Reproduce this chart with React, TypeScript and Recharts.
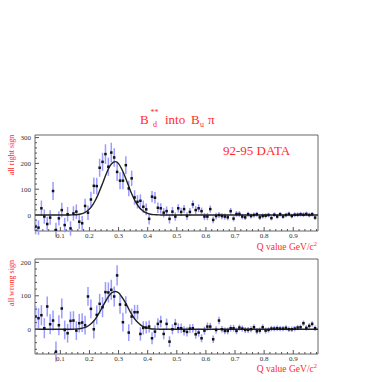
import { ComposedChart, Scatter, Line, XAxis, YAxis, ErrorBar, ReferenceArea } from "recharts";

// Q value bins: 0.015 .. 0.975, width 0.01
const BIN_START = 0.015;
const BIN_WIDTH = 0.01;

const rightSign = [
  -45, -49, 26, -6, -35, -10, 93, -58, -13, 19,
  -39, 3, -52, 6, 13, -26, -32, 35, 9, 60,
  113, 112, 183, 206, 236, 187, 242, 223, 167, 133,
  133, 193, 103, 142, 68, 51, 55, 32, 22, -15,
  71, 67, 28, 26, 9, 15, -15, 13, -6, 26,
  12, 23, -4, 12, 41, 19, 26, 15, -6, -6,
  23, -19, -4, 0, -4, -6, -9, 15, -14, 4,
  4, -6, -9, 3, -4, 0, 3, -9, -4, -3,
  0, -12, 1, -6, 3, -6, 0, 4, -4, 1,
  1, 3, 1, 4, 0, 3, -10,
];
const rightErr = [
  30, 28, 30, 28, 28, 28, 35, 28, 28, 28,
  28, 28, 28, 28, 28, 28, 28, 28, 28, 30,
  32, 32, 35, 35, 38, 35, 38, 36, 35, 33,
  33, 35, 30, 30, 28, 26, 25, 24, 23, 22,
  22, 22, 20, 20, 18, 18, 18, 18, 16, 16,
  16, 16, 15, 15, 15, 15, 15, 14, 14, 14,
  14, 13, 13, 12, 12, 12, 12, 12, 11, 11,
  11, 11, 10, 10, 10, 10, 10, 10, 10, 10,
  9, 9, 9, 9, 9, 9, 9, 9, 9, 9,
  9, 9, 9, 9, 9, 9, 9,
];

const wrongSign = [
  38, 33, 42, 3, 68, 15, 26, -67, 12, 62,
  -2, -12, 25, 26, -4, 18, 20, 12, 98, 61,
  0, 43, 76, 66, 111, 110, 118, 98, 161, 74,
  21, 73, -10, 38, 51, 51, -14, 4, 5, 8,
  -27, -7, 16, 23, -14, 16, -37, 0, 16, 3,
  3, -5, -8, 2, 3, -15, -10, -27, -4, 8,
  8, -30, -2, 26, 0, -5, -5, 3, 3, -5,
  5, 2, -2, -2, 0, 6, -6, -4, 6, -4,
  -2, 2, 2, 3, 2, 2, 4, 0, 0, 2,
  5, 6, 18, 4, 10, 16, 3,
];
const wrongErr = [
  32, 30, 30, 30, 30, 30, 30, 30, 30, 30,
  28, 28, 28, 28, 28, 28, 28, 28, 28, 28,
  28, 28, 30, 30, 30, 30, 30, 30, 30, 28,
  28, 26, 25, 24, 22, 22, 20, 20, 18, 18,
  18, 18, 17, 17, 16, 16, 16, 15, 15, 15,
  14, 14, 14, 13, 13, 13, 12, 12, 12, 12,
  11, 11, 11, 11, 10, 10, 10, 10, 10, 10,
  9, 9, 9, 9, 9, 9, 9, 9, 9, 9,
  8, 8, 8, 8, 8, 8, 8, 8, 8, 8,
  8, 8, 8, 8, 8, 8, 8,
];

// fitted curves (gaussian on flat zero background)
const fitQ = [
  0.013, 0.1, 0.12, 0.13, 0.14, 0.15, 0.16, 0.17, 0.18, 0.19, 0.2, 0.21, 0.22, 0.23,
  0.24, 0.25, 0.26, 0.27, 0.28, 0.29, 0.3, 0.31, 0.32, 0.33, 0.34, 0.35, 0.36, 0.37,
  0.38, 0.39, 0.4, 0.41, 0.42, 0.43, 0.44, 0.45, 0.46, 0.5, 0.985,
];
const fitRight = [
  0, 0, 0.1, 0.2, 0.4, 0.9, 2, 4, 7.6, 13.6, 23, 37, 56, 80,
  108, 137, 166, 189, 203, 207, 199, 180, 155, 126, 96, 70, 48, 31,
  19, 10.8, 6, 3, 1.5, 0.7, 0.3, 0.1, 0, 0, 0,
];
const fitWrong = [
  0, 0, 0, 0.1, 0.2, 0.5, 1.1, 2.2, 4.2, 7.4, 12.6, 20, 30.5, 44,
  59, 75, 91, 103, 111, 113, 109, 98, 85, 69, 52, 38, 26, 17,
  10, 5.9, 3.3, 1.6, 0.8, 0.4, 0.2, 0, 0, 0, 0,
];

const xTicks = [
  0.02, 0.04, 0.06, 0.08, 0.1, 0.12, 0.14, 0.16, 0.18, 0.2, 0.22, 0.24, 0.26, 0.28, 0.3,
  0.32, 0.34, 0.36, 0.38, 0.4, 0.42, 0.44, 0.46, 0.48, 0.5, 0.52, 0.54, 0.56, 0.58, 0.6,
  0.62, 0.64, 0.66, 0.68, 0.7, 0.72, 0.74, 0.76, 0.78, 0.8, 0.82, 0.84, 0.86, 0.88, 0.9,
  0.92, 0.94, 0.96, 0.98,
];
const yTicksRight = [-60, -40, -20, 0, 20, 40, 60, 80, 100, 120, 140, 160, 180, 200, 220, 240, 260, 280, 300];
const yTicksWrong = [-60, -40, -20, 0, 20, 40, 60, 80, 100, 120, 140, 160, 180, 200];

const X_DOMAIN: [number, number] = [0.013, 0.985];
const RED = "#ff2b2b";
const SERIF = "'Liberation Serif', 'DejaVu Serif', serif";

const toPoints = (vals: number[], errs: number[]) =>
  vals.map((y, i) => ({ x: +(BIN_START + BIN_WIDTH * i).toFixed(3), y, err: errs[i] }));
const toFit = (vals: number[]) => fitQ.map((x, i) => ({ x, y: vals[i] }));

const Square = (p: any) => <rect x={p.cx - 1.25} y={p.cy - 1.25} width={2.5} height={2.5} fill="#111" />;

// ticks point into the frame; labels only on the major ones
const XTick = (p: any) => {
  const v = p.payload.value;
  const major = Math.abs(v * 10 - Math.round(v * 10)) < 1e-6;
  return (
    <g>
      <line x1={p.x} x2={p.x} y1={p.y} y2={p.y - (major ? 4 : 2)} stroke="#555" />
      {major && (
        <text x={p.x} y={p.y + 7} textAnchor="middle" fontSize={7} fontFamily={SERIF} fill="#333">
          {v.toFixed(1)}
        </text>
      )}
    </g>
  );
};

const YTick = (p: any) => {
  const v = p.payload.value;
  const major = v % 100 === 0;
  return (
    <g>
      <line x1={p.x} x2={p.x + (major ? 4 : 2)} y1={p.y} y2={p.y} stroke="#555" />
      {major && (
        <text x={p.x - 4} y={p.y + 2.5} textAnchor="end" fontSize={7} fontFamily={SERIF} fill="#333">
          {v}
        </text>
      )}
    </g>
  );
};

type PanelProps = {
  points: { x: number; y: number; err: number }[];
  fit: { x: number; y: number }[];
  yDomain: [number, number];
  yTicks: number[];
  top: number;
  bottom: number;
};

function Panel({ points, fit, yDomain, yTicks, top, bottom }: PanelProps) {
  return (
    <div style={{ position: "absolute", left: 0, top: 0 }}>
      <ComposedChart width={382} height={382} margin={{ top, bottom: 382 - bottom - 20, left: 0, right: 64 }}>
        <XAxis
          type="number"
          dataKey="x"
          domain={X_DOMAIN}
          allowDataOverflow
          ticks={xTicks}
          interval={0}
          height={20}
          axisLine={false}
          tickLine={false}
          tickSize={0}
          tickMargin={0}
          tick={XTick}
        />
        <YAxis
          type="number"
          domain={yDomain}
          allowDataOverflow
          ticks={yTicks}
          interval={0}
          width={35}
          axisLine={false}
          tickLine={false}
          tickSize={0}
          tickMargin={0}
          tick={YTick}
        />
        <ReferenceArea x1={X_DOMAIN[0]} x2={X_DOMAIN[1]} y1={yDomain[0]} y2={yDomain[1]} fill="none" stroke="#666" strokeWidth={1} />
        <Scatter data={points} dataKey="y" shape={Square} isAnimationActive={false}>
          <ErrorBar dataKey="err" direction="y" width={0} stroke="#9a9cff" strokeWidth={1.5} />
        </Scatter>
        <Line
          data={fit}
          dataKey="y"
          type="monotone"
          dot={false}
          activeDot={false}
          stroke="#222"
          strokeWidth={1.4}
          isAnimationActive={false}
        />
      </ComposedChart>
    </div>
  );
}

export default function App() {
  return (
    <div style={{ position: "fixed", left: 0, top: 0, width: 382, height: 382, background: "#fff", overflow: "hidden" }}>
      <Panel points={toPoints(rightSign, rightErr)} fit={toFit(fitRight)} yDomain={[-62, 310]} yTicks={yTicksRight} top={135} bottom={231} />
      <Panel points={toPoints(wrongSign, wrongErr)} fit={toFit(fitWrong)} yDomain={[-74, 210]} yTicks={yTicksWrong} top={259} bottom={354} />
      <svg width={382} height={382} style={{ position: "absolute", left: 0, top: 0, pointerEvents: "none" }} fontFamily={SERIF} fill={RED}>
        <text x={140} y={124} fontSize={13}>B</text>
        <text x={150.5} y={115} fontSize={8}>**</text>
        <text x={153} y={127} fontSize={8}>d</text>
        <text x={165} y={124} fontSize={13}>into</text>
        <text x={191} y={124} fontSize={13}>B</text>
        <text x={200} y={127} fontSize={8}>u</text>
        <text x={208} y={124} fontSize={13}>π</text>
        <text x={223} y={155} fontSize={13}>92-95 DATA</text>
        <text x={14} y={155} fontSize={8} textAnchor="middle" transform="rotate(-90 14 155)">all right sign</text>
        <text x={14} y={283} fontSize={8} textAnchor="middle" transform="rotate(-90 14 283)">all wrong sign</text>
        <text x={317} y={250} fontSize={9.5} textAnchor="end">
          Q value GeV/c<tspan fontSize={6.5} dy={-4}>2</tspan>
        </text>
        <text x={317} y={372} fontSize={9.5} textAnchor="end">
          Q value GeV/c<tspan fontSize={6.5} dy={-4}>2</tspan>
        </text>
      </svg>
    </div>
  );
}
